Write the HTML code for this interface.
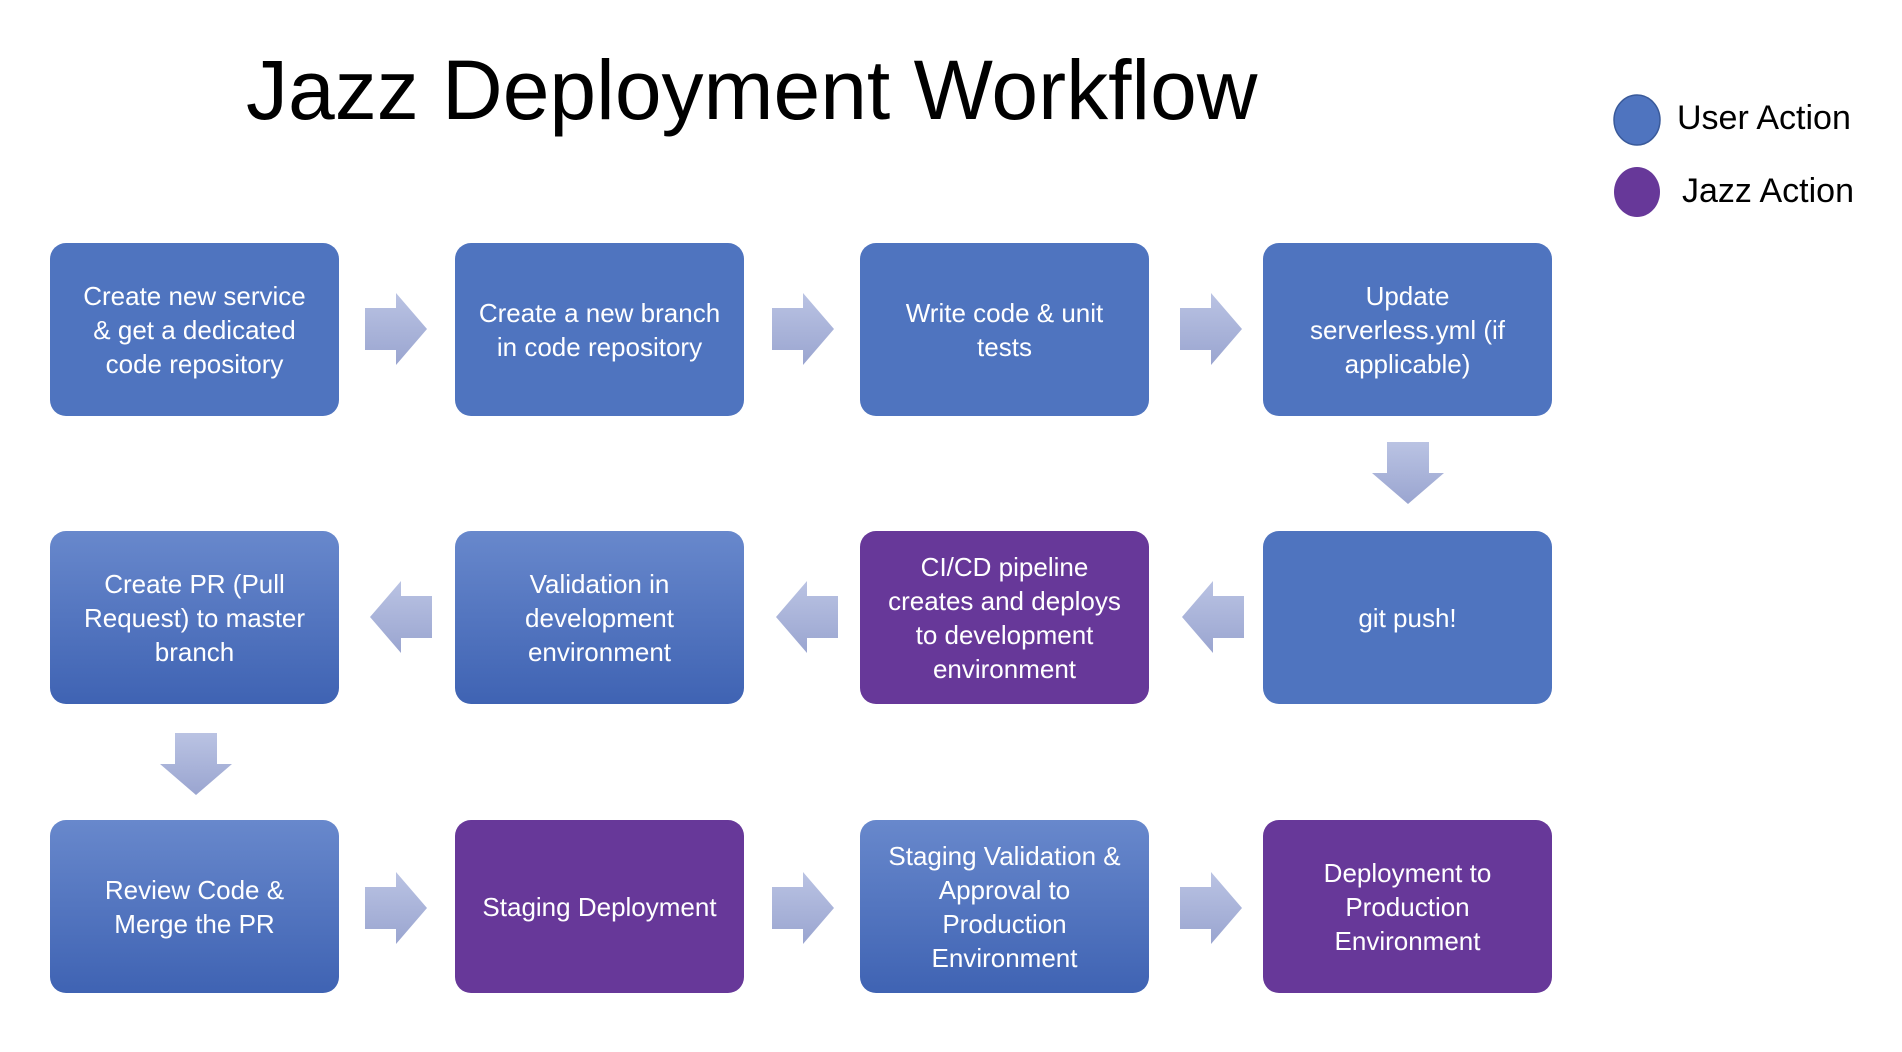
<!DOCTYPE html>
<html><head><meta charset="utf-8"><style>
body{margin:0;width:1902px;height:1052px;background:#fff;position:relative;overflow:hidden;font-family:"Liberation Sans",sans-serif}
.b{position:absolute;width:289px;height:173px;border-radius:16px;color:#fff;font-size:26px;line-height:34px;display:flex;align-items:center;justify-content:center;text-align:center;background:#4F74BF}
.p{background:#673899}
.g{background:linear-gradient(#6888CC,#3F63B3)}
.t{position:absolute;left:246px;top:42px;font-size:84px;color:#000;white-space:nowrap}
.l{position:absolute;font-size:34px;white-space:nowrap}
svg{position:absolute;left:0;top:0}
</style></head><body>
<div class="t">Jazz Deployment Workflow</div>
<svg width="1902" height="1052">
<defs>
<linearGradient id="a" x1="0" y1="0" x2="0" y2="1"><stop offset="0" stop-color="#BAC3E3"/><stop offset="1" stop-color="#9AA5D0"/></linearGradient>
<g id="r"><polygon points="0,-21 31,-21 31,-36 62,0 31,36 31,21 0,21" fill="url(#a)"/></g>
<g id="lft"><polygon points="62,-21 31,-21 31,-36 0,0 31,36 31,21 62,21" fill="url(#a)"/></g>
<g id="d"><polygon points="-21,0 21,0 21,31 36,31 0,62 -36,31 -21,31" fill="url(#a)"/></g>
</defs>
<ellipse cx="1637" cy="120" rx="23" ry="25" fill="#4F74BF" stroke="#3A5A9A" stroke-width="1.5"/>
<ellipse cx="1637" cy="192" rx="23" ry="25" fill="#673899"/>
<use href="#r" x="365" y="329"/><use href="#r" x="772" y="329"/><use href="#r" x="1180" y="329"/>
<use href="#d" x="1408" y="442"/>
<use href="#lft" x="370" y="617"/><use href="#lft" x="776" y="617"/><use href="#lft" x="1182" y="617"/>
<use href="#d" x="196" y="733"/>
<use href="#r" x="365" y="908"/><use href="#r" x="772" y="908"/><use href="#r" x="1180" y="908"/>
</svg>
<div class="l" style="left:1677px;top:99px">User Action</div>
<div class="l" style="left:1682px;top:172px">Jazz Action</div>

<div class="b" style="left:50px;top:243px">Create new service<br>&amp; get a dedicated<br>code repository</div>
<div class="b" style="left:455px;top:243px">Create a new branch<br>in code repository</div>
<div class="b" style="left:860px;top:243px">Write code &amp; unit<br>tests</div>
<div class="b" style="left:1263px;top:243px">Update<br>serverless.yml (if<br>applicable)</div>

<div class="b g" style="left:50px;top:531px">Create PR (Pull<br>Request) to master<br>branch</div>
<div class="b g" style="left:455px;top:531px">Validation in<br>development<br>environment</div>
<div class="b p" style="left:860px;top:531px">CI/CD pipeline<br>creates and deploys<br>to development<br>environment</div>
<div class="b" style="left:1263px;top:531px">git push!</div>

<div class="b g" style="left:50px;top:820px">Review Code &amp;<br>Merge the PR</div>
<div class="b p" style="left:455px;top:820px">Staging Deployment</div>
<div class="b g" style="left:860px;top:820px">Staging Validation &amp;<br>Approval to<br>Production<br>Environment</div>
<div class="b p" style="left:1263px;top:820px">Deployment to<br>Production<br>Environment</div>
</body></html>
